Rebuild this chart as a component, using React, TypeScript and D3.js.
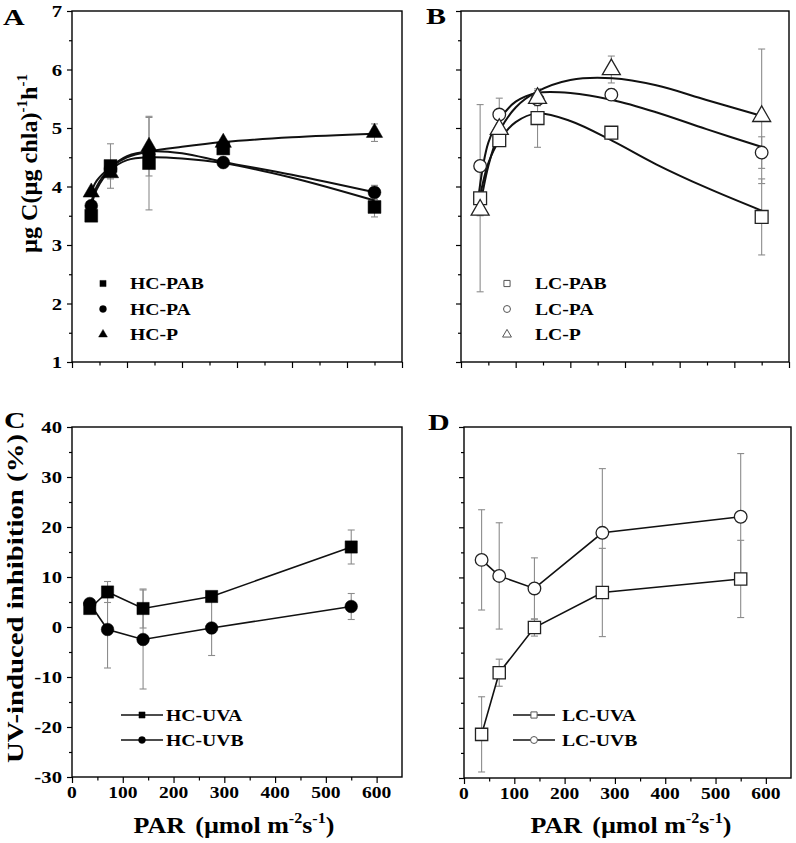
import { useRef, useEffect } from 'react';
import * as d3 from 'd3';

const FONT = '"Liberation Serif", "Times New Roman", serif';

// PAR levels of the incubations (µmol m-2 s-1)
const par = [35, 70, 140, 275, 550];

// A: high CO2, carbon fixation
const hcPAB = [3.5, 4.35, 4.4, 4.65, 3.65];
const hcPABErr = [0.05, 0.38, 0.8, 0.05, 0.17];
const hcPA = [3.67, 4.3, 4.55, 4.41, 3.9];
const hcPAErr = [0.05, 0.1, 0.1, 0.05, 0.12];
const hcP = [3.9, 4.23, 4.68, 4.75, 4.92];
const hcPErr = [0.05, 0.1, 0.5, 0.05, 0.15];

// fitted curves in A
const fitParA = [33, 45, 70, 100, 140, 200, 275, 400, 550];
const hcPABFit = [3.58, 3.95, 4.28, 4.45, 4.5, 4.48, 4.4, 4.15, 3.76];
const hcPAFit = [3.65, 4.0, 4.32, 4.52, 4.6, 4.57, 4.42, 4.2, 3.9];
const hcPFit = [3.85, 4.1, 4.33, 4.5, 4.6, 4.68, 4.76, 4.84, 4.9];

// B: low CO2, carbon fixation
const lcPAB = [3.8, 4.79, 5.17, 4.92, 3.48];
const lcPABErr = [1.6, 0.05, 0.5, 0.05, 0.65];
const lcPA = [4.35, 5.23, 5.49, 5.57, 4.58];
const lcPAErr = [0.05, 0.28, 0.1, 0.1, 0.27];
const lcP = [3.6, 4.98, 5.51, 6.0, 5.2];
const lcPErr = [0.1, 0.1, 0.13, 0.23, 1.15];

// fitted curves in B
const fitParB = [33, 50, 71, 100, 139, 200, 277, 357, 449, 552];
const lcPABFit = [3.75, 4.4, 4.8, 5.1, 5.25, 5.12, 4.78, 4.38, 3.98, 3.58];
const lcPAFit = [3.9, 4.75, 5.15, 5.45, 5.6, 5.6, 5.48, 5.27, 4.98, 4.67];
const lcPFit = [3.55, 4.35, 4.95, 5.35, 5.62, 5.82, 5.85, 5.73, 5.48, 5.2];

// C: HC UV-induced inhibition (%)
const hcUVA = [3.7, 7.0, 3.7, 6.1, 16];
const hcUVAErr = [0.5, 2.1, 3.9, 0.5, 3.4];
const hcUVB = [4.7, -0.5, -2.5, -0.2, 4.1];
const hcUVBErr = [0.5, 7.7, 9.9, 5.5, 2.6];

// D: LC UV-induced inhibition (%)
const lcUVA = [-21.3, -9, 0, 7, 9.7];
const lcUVAErr = [7.5, 2.7, 1.7, 8.8, 7.7];
const lcUVB = [13.5, 10.3, 7.8, 18.9, 22.1];
const lcUVBErr = [10, 10.6, 6.1, 12.8, 12.6];

const rateTicks = [1, 2, 3, 4, 5, 6, 7];
const inhibTicks = [-30, -20, -10, 0, 10, 20, 30, 40];
const parTicks = [0, 100, 200, 300, 400, 500, 600];

type Part = { t: string; sup?: boolean; dx?: number };
type Sel = d3.Selection<SVGGElement, unknown, null, undefined>;

const addText = (
  parent: Sel,
  x: number,
  y: number,
  parts: Part[] | string,
  size: number,
  opts: { anchor?: string; rotate?: number; sx?: number } = {}
) => {
  const { anchor = 'start', rotate = 0, sx = 1.2 } = opts;
  const t = parent
    .append('text')
    .attr('transform', `translate(${x},${y}) rotate(${rotate}) scale(${sx},1)`)
    .attr('font-family', FONT)
    .attr('font-weight', 'bold')
    .attr('font-size', size)
    .attr('text-anchor', anchor)
    .attr('fill', '#000');
  const list = typeof parts === 'string' ? [{ t: parts }] : parts;
  let raised = false;
  const shift = size * 0.42;
  list.forEach((p) => {
    const ts = t.append('tspan').text(p.t);
    if (p.sup) {
      ts.attr('font-size', size * 0.62).attr('dy', raised ? 0 : -shift);
      raised = true;
    } else if (raised) {
      ts.attr('dy', shift);
      raised = false;
    }
    if (p.dx) ts.attr('dx', p.dx);
  });
};

interface Box { left: number; right: number; top: number; bottom: number }

interface Series {
  vals: number[];
  errs: number[];
  shape: d3.SymbolType;
  size: number;
  filled: boolean;
  name: string;
  fitX?: number[];
  fitY?: number[];
}

const drawPanel = (
  svg: Sel,
  box: Box,
  xMax: number,
  yDomain: [number, number],
  yTicks: number[],
  showY: boolean,
  showX: boolean,
  series: Series[],
  connect: boolean
) => {
  const x = d3.scaleLinear().domain([0, xMax]).range([box.left, box.right]);
  const y = d3.scaleLinear().domain(yDomain).range([box.bottom, box.top]);
  const g = svg.append('g');
  const step = yTicks[1] - yTicks[0];
  const yMinor = yTicks.slice(0, -1).map((v) => v + step / 2);
  const xMinor = parTicks.slice(0, -1).map((v) => v + 50);

  // axes: ticks only, frame drawn separately
  const tickStyle = (a: Sel) => {
    a.select('.domain').remove();
    a.selectAll('line').attr('stroke', '#000').attr('stroke-width', 1.2);
  };
  g.append('g')
    .attr('transform', `translate(${box.left},0)`)
    .call(d3.axisLeft(y).tickValues(yTicks).tickSize(5).tickFormat(() => ''))
    .call(tickStyle);
  g.append('g')
    .attr('transform', `translate(${box.left},0)`)
    .call(d3.axisLeft(y).tickValues(yMinor).tickSize(3).tickFormat(() => ''))
    .call(tickStyle);
  g.append('g')
    .attr('transform', `translate(0,${box.bottom})`)
    .call(d3.axisBottom(x).tickValues(parTicks).tickSize(6).tickFormat(() => ''))
    .call(tickStyle);
  g.append('g')
    .attr('transform', `translate(0,${box.bottom})`)
    .call(d3.axisBottom(x).tickValues(xMinor).tickSize(3.5).tickFormat(() => ''))
    .call(tickStyle);

  g.append('rect')
    .attr('x', box.left)
    .attr('y', box.top)
    .attr('width', box.right - box.left)
    .attr('height', box.bottom - box.top)
    .attr('fill', 'none')
    .attr('stroke', '#000')
    .attr('stroke-width', 1.4);

  if (showY) {
    yTicks.forEach((v) => addText(g, box.left - 10, y(v) + 6, String(v), 17, { anchor: 'end', sx: 1.22 }));
  }
  if (showX) {
    parTicks.forEach((v) => addText(g, x(v), box.bottom + 21, String(v), 17, { anchor: 'middle', sx: 1.15 }));
  }

  // error bars
  series.forEach((s) => {
    s.vals.forEach((v, i) => {
      const e = s.errs[i];
      const cx = x(par[i]);
      const y1 = y(v + e);
      const y2 = y(v - e);
      g.append('line').attr('x1', cx).attr('x2', cx).attr('y1', y1).attr('y2', y2)
        .attr('stroke', '#8c8c8c').attr('stroke-width', 1.1);
      [y1, y2].forEach((yy) =>
        g.append('line').attr('x1', cx - 3.5).attr('x2', cx + 3.5).attr('y1', yy).attr('y2', yy)
          .attr('stroke', '#8c8c8c').attr('stroke-width', 1.1)
      );
    });
  });

  // fitted curves or connecting lines
  series.forEach((s) => {
    if (connect) {
      const line = d3.line<number>().x((_, i) => x(par[i])).y((d) => y(d));
      g.append('path').datum(s.vals).attr('d', line).attr('fill', 'none')
        .attr('stroke', '#111').attr('stroke-width', 1.6);
    } else if (s.fitX && s.fitY) {
      const fx = s.fitX;
      const line = d3.line<number>().x((_, i) => x(fx[i])).y((d) => y(d)).curve(d3.curveCatmullRom.alpha(0.5));
      g.append('path').datum(s.fitY).attr('d', line).attr('fill', 'none')
        .attr('stroke', '#111').attr('stroke-width', 2);
    }
  });

  // markers
  series.forEach((s) => {
    const sym = d3.symbol().type(s.shape).size(s.size);
    s.vals.forEach((v, i) => {
      g.append('path')
        .attr('d', sym()!)
        .attr('transform', `translate(${x(par[i])},${y(v)})`)
        .attr('fill', s.filled ? '#000' : '#fff')
        .attr('stroke', s.filled ? '#000' : '#222')
        .attr('stroke-width', s.filled ? 0.5 : 1.3);
    });
  });
  return g;
};

const legendRow = (
  g: Sel,
  mx: number,
  my: number,
  tx: number,
  s: Series,
  withLine: boolean
) => {
  if (withLine) {
    g.append('line').attr('x1', mx - 21).attr('x2', mx + 21).attr('y1', my).attr('y2', my)
      .attr('stroke', '#111').attr('stroke-width', 1.6);
  }
  const sym = d3.symbol().type(s.shape).size(s.shape === d3.symbolTriangle ? 34 : 38);
  g.append('path')
    .attr('d', sym()!)
    .attr('transform', `translate(${mx},${my})`)
    .attr('fill', s.filled ? '#000' : '#fff')
    .attr('stroke', s.filled ? '#000' : '#555')
    .attr('stroke-width', s.filled ? 0.4 : 1);
  addText(g, tx, my + 5.5, s.name, 16, { sx: 1.23 });
};

const App = () => {
  const svgRef = useRef<SVGSVGElement | null>(null);

  useEffect(() => {
    if (!svgRef.current) return;
    const svg = d3.select(svgRef.current);
    svg.selectAll('*').remove();
    const root = svg.append('g') as unknown as Sel;

    const seriesA: Series[] = [
      { vals: hcPAB, errs: hcPABErr, shape: d3.symbolSquare, size: 165, filled: true, name: 'HC-PAB', fitX: fitParA, fitY: hcPABFit },
      { vals: hcPA, errs: hcPAErr, shape: d3.symbolCircle, size: 130, filled: true, name: 'HC-PA', fitX: fitParA, fitY: hcPAFit },
      { vals: hcP, errs: hcPErr, shape: d3.symbolTriangle, size: 115, filled: true, name: 'HC-P', fitX: fitParA, fitY: hcPFit },
    ];
    const seriesB: Series[] = [
      { vals: lcPAB, errs: lcPABErr, shape: d3.symbolSquare, size: 165, filled: false, name: 'LC-PAB', fitX: fitParB, fitY: lcPABFit },
      { vals: lcPA, errs: lcPAErr, shape: d3.symbolCircle, size: 125, filled: false, name: 'LC-PA', fitX: fitParB, fitY: lcPAFit },
      { vals: lcP, errs: lcPErr, shape: d3.symbolTriangle, size: 140, filled: false, name: 'LC-P', fitX: fitParB, fitY: lcPFit },
    ];
    const seriesC: Series[] = [
      { vals: hcUVA, errs: hcUVAErr, shape: d3.symbolSquare, size: 150, filled: true, name: 'HC-UVA' },
      { vals: hcUVB, errs: hcUVBErr, shape: d3.symbolCircle, size: 125, filled: true, name: 'HC-UVB' },
    ];
    const seriesD: Series[] = [
      { vals: lcUVA, errs: lcUVAErr, shape: d3.symbolSquare, size: 150, filled: false, name: 'LC-UVA' },
      { vals: lcUVB, errs: lcUVBErr, shape: d3.symbolCircle, size: 125, filled: false, name: 'LC-UVB' },
    ];

    const gA = drawPanel(root, { left: 72, right: 402, top: 11, bottom: 362 }, 600, [1, 7], rateTicks, true, false, seriesA, false);
    const gB = drawPanel(root, { left: 461, right: 789, top: 11, bottom: 362 }, 600, [1, 7], rateTicks, false, false, seriesB, false);
    const gC = drawPanel(root, { left: 72, right: 402, top: 427, bottom: 777 }, 650, [-30, 40], inhibTicks, true, true, seriesC, true);
    const gD = drawPanel(root, { left: 464, right: 791, top: 427, bottom: 778 }, 650, [-30, 40], inhibTicks, false, true, seriesD, true);

    seriesA.forEach((s, i) => legendRow(gA, 103, 283.5 + i * 25.5, 130, s, false));
    seriesB.forEach((s, i) => legendRow(gB, 507, 283.5 + i * 25.5, 535, s, false));
    seriesC.forEach((s, i) => legendRow(gC, 142, 715 + i * 25, 166, s, true));
    seriesD.forEach((s, i) => legendRow(gD, 534, 715 + i * 25, 562, s, true));

    // panel letters
    addText(root, 3, 25, 'A', 24, { sx: 1.25 });
    addText(root, 426, 24, 'B', 24, { sx: 1.25 });
    addText(root, 4, 428, 'C', 24, { sx: 1.25 });
    addText(root, 428, 430, 'D', 24, { sx: 1.25 });

    // axis titles
    addText(root, 37, 163.5, [
      { t: 'µg C(µg chla)' }, { t: '-1', sup: true }, { t: 'h' }, { t: '-1', sup: true },
    ], 23, { anchor: 'middle', rotate: -90, sx: 1.05 });
    addText(root, 23, 598.5, 'UV-induced inhibition (%)', 24, { anchor: 'middle', rotate: -90, sx: 1.2 });
    const parTitle: Part[] = [
      { t: 'PAR' }, { t: '(µmol m', dx: 9 }, { t: '-2', sup: true }, { t: 's' }, { t: '-1', sup: true }, { t: ')' },
    ];
    addText(root, 234, 833, parTitle, 23, { anchor: 'middle', sx: 1.13 });
    addText(root, 631, 833, parTitle, 23, { anchor: 'middle', sx: 1.13 });
  }, []);

  return (
    <svg
      ref={svgRef}
      width={796}
      height={843}
      style={{ position: 'absolute', left: 0, top: 0, background: '#fff' }}
    />
  );
};

export default App;
